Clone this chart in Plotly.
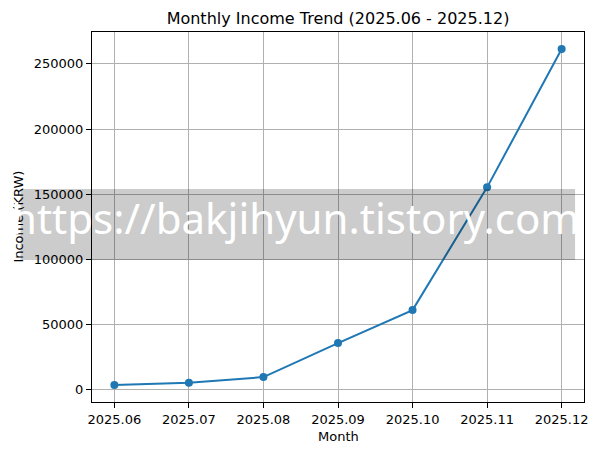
import plotly.graph_objects as go

months = ["2025.06", "2025.07", "2025.08", "2025.09", "2025.10", "2025.11", "2025.12"]
income = [3600, 5300, 9700, 35800, 61100, 155300, 261500]
y_ticks = [0, 50000, 100000, 150000, 200000, 250000]

# page body has an 8px margin; figure is placed at (8, 8)
OFF = 8
W, H = 603 - 2 * OFF, 455 - 2 * OFF
PL, PR, PT, PB = 92, 588, 32, 402  # plot area in window pixels
L, R, T, B = PL - OFF, (603 - OFF) - PR, PT - OFF, (H + OFF) - PB
pw, ph = PR - PL, PB - PT

def px(x):
    return (x - PL) / pw

def py(y):
    return (PB - y) / ph

font = "DejaVu Sans"

fig = go.Figure()
fig.add_trace(go.Scatter(
    x=months, y=income, mode="lines+markers",
    line=dict(color="#1f77b4", width=2),
    marker=dict(color="#1f77b4", size=8),
    showlegend=False,
))

axis_common = dict(
    showline=True, mirror=True, linecolor="black", linewidth=1,
    ticks="outside", ticklen=5, tickcolor="black", tickwidth=1,
    showgrid=True, gridcolor="#b0b0b0", gridwidth=1, zeroline=False,
    tickfont=dict(family=font, size=13, color="black"),
)

fig.update_layout(
    width=W, height=H,
    margin=dict(l=L, r=R, t=T, b=B, pad=0),
    paper_bgcolor="white", plot_bgcolor="white",
    title=dict(text="Monthly Income Trend (2025.06 - 2025.12)",
               font=dict(family=font, size=16, color="black"),
               x=px(340), xref="paper", xanchor="center",
               y=1 - (18 - OFF) / H, yref="container", yanchor="middle"),
    xaxis=dict(type="category", range=[-0.3, 6.3], **axis_common),
    yaxis=dict(range=[-9400, 274500], tickvals=y_ticks,
               ticktext=[str(v) for v in y_ticks], **axis_common),
    annotations=[
        dict(text="Month", x=px(340), y=py(437), xref="paper", yref="paper",
             showarrow=False, font=dict(family=font, size=13, color="black"),
             xanchor="center", yanchor="middle"),
        dict(text="Income (KRW)", x=px(17), y=py(217), xref="paper", yref="paper",
             showarrow=False, textangle=-90,
             font=dict(family=font, size=13, color="black"),
             xanchor="center", yanchor="middle"),
        dict(text="https://bakjihyun.tistory.com", x=px(297), y=py(217),
             xref="paper", yref="paper", showarrow=False,
             font=dict(family="Noto Sans", size=42, color="white"),
             xanchor="center", yanchor="middle"),
    ],
    shapes=[
        dict(type="rect", xref="paper", yref="paper",
             x0=px(20), x1=px(579), y0=py(260), y1=py(189),
             fillcolor="rgba(0,0,0,0.2)", line=dict(width=0), layer="above"),
    ],
)

fig.write_html("out.html")
